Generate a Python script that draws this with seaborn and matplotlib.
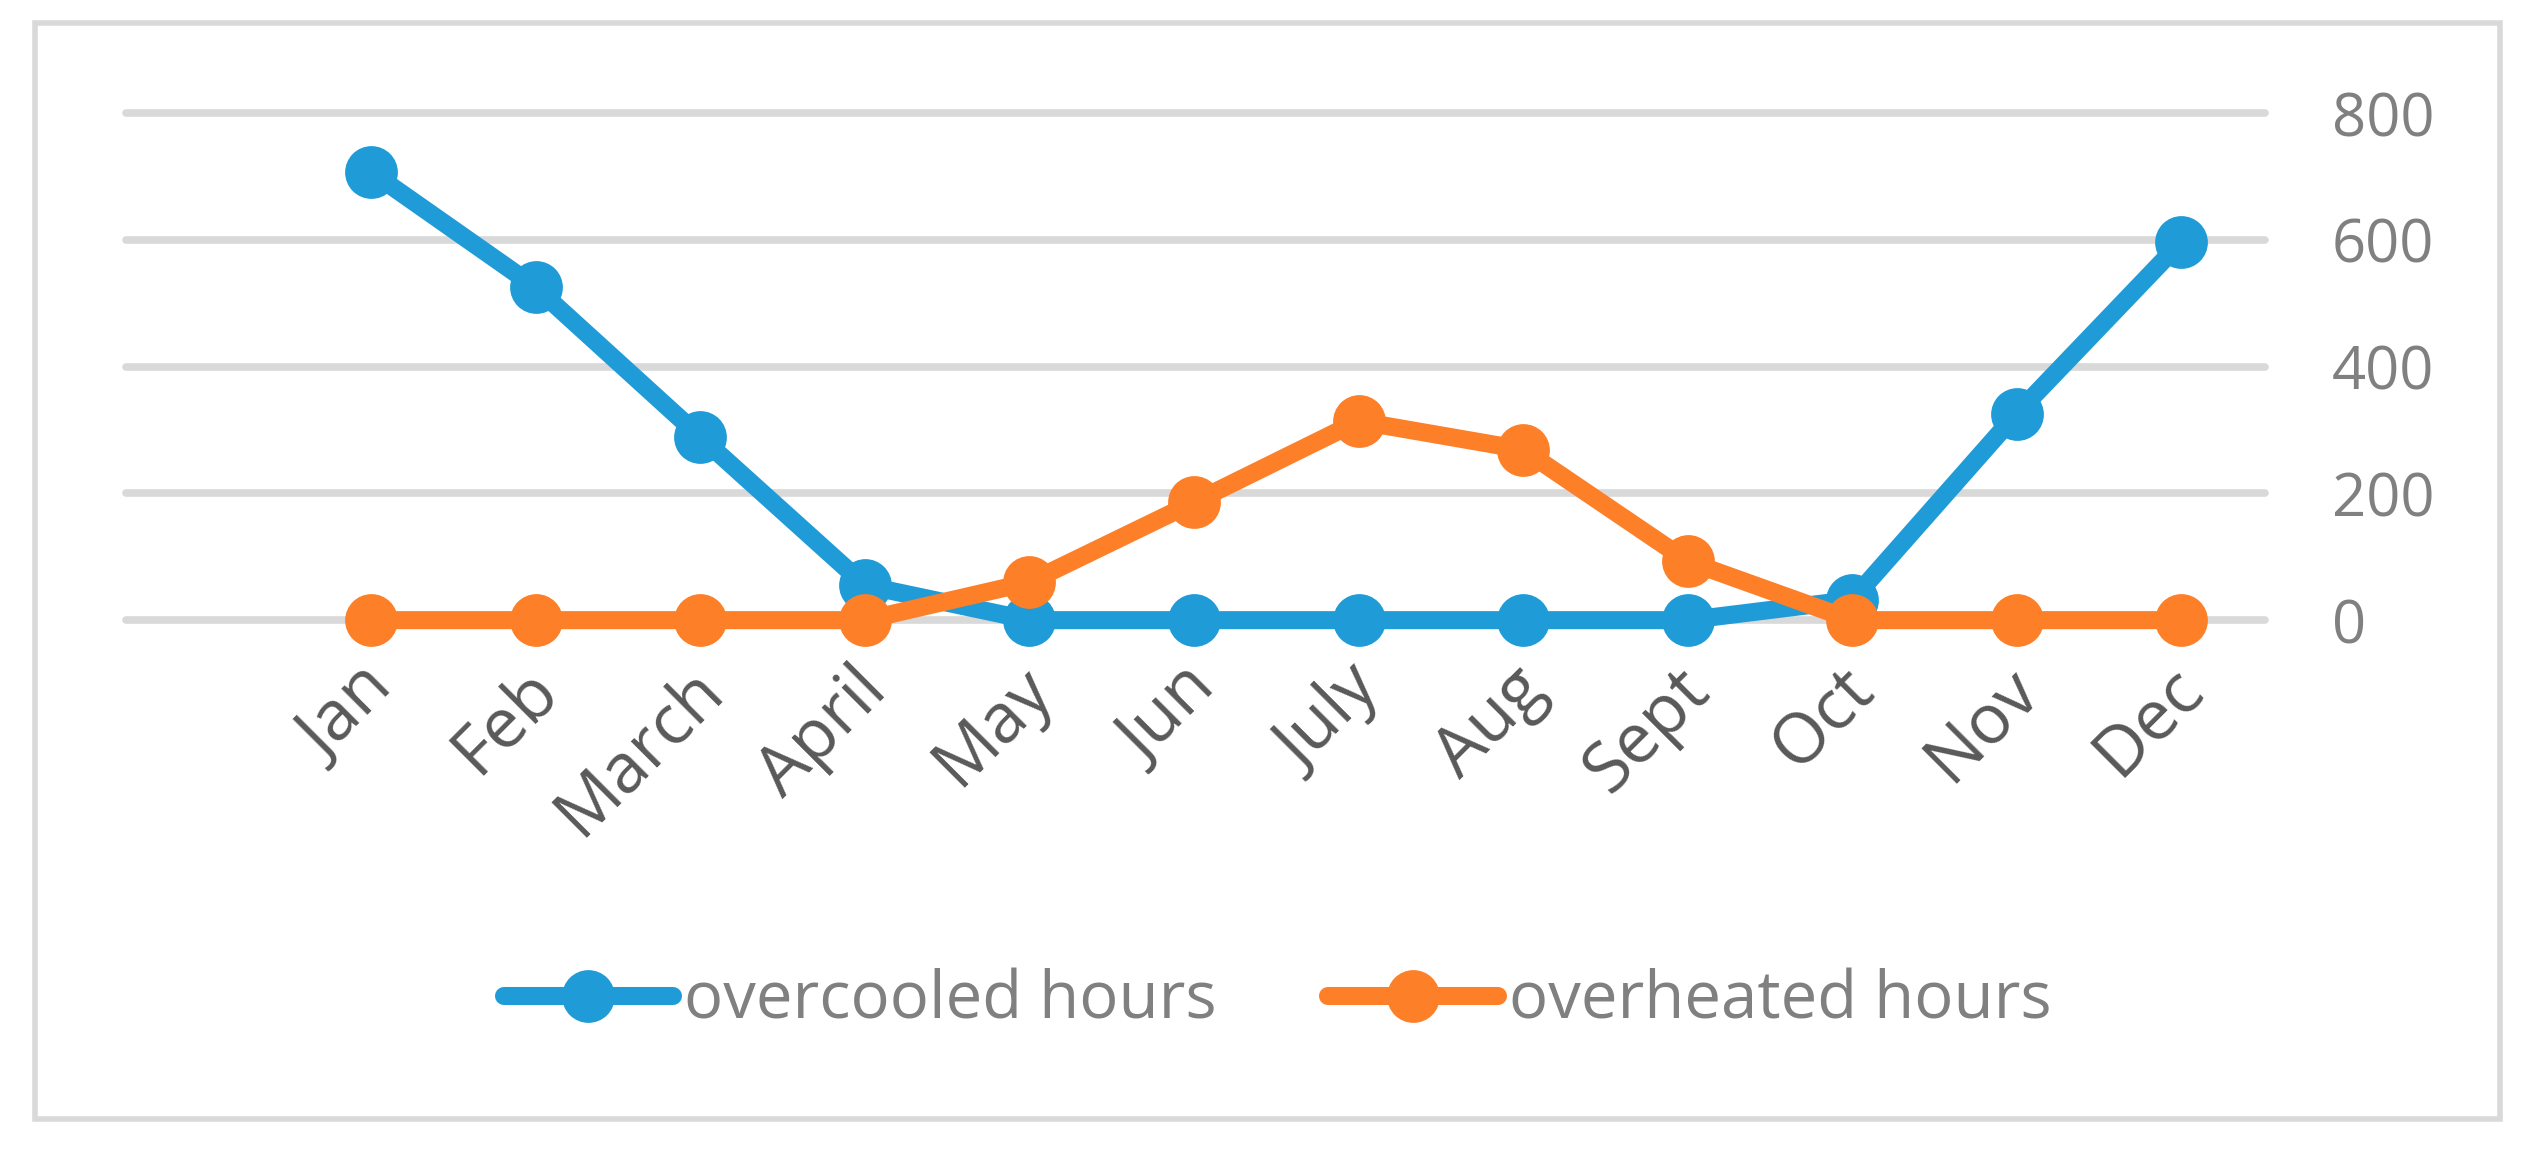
import pandas as pd
import matplotlib.pyplot as plt
import matplotlib.transforms as mtransforms
from matplotlib.patches import Rectangle
from matplotlib.lines import Line2D
import seaborn as sns

# Data
months = ["Jan", "Feb", "March", "April", "May", "Jun",
          "July", "Aug", "Sept", "Oct", "Nov", "Dec"]
overcooled = [707, 525, 289, 55, 0, 0, 0, 0, 0, 32, 326, 597]
overheated = [0, 0, 0, 0, 60, 186, 314, 269, 93, 0, 0, 0]
series_names = ["overcooled hours", "overheated hours"]
y_ticks = [0, 200, 400, 600, 800]

blue = "#1F9CD8"
orange = "#FD7F27"
grid_gray = "#D9D9D9"

df = pd.DataFrame({
    "idx": list(range(len(months))) * 2,
    "value": overcooled + overheated,
    "series": [series_names[0]] * len(months) + [series_names[1]] * len(months),
})

sns.set_style("white")
plt.rcParams["font.family"] = ["Open Sans", "DejaVu Sans"]

fig = plt.figure(figsize=(25.31, 11.57), dpi=100)
ax = fig.add_axes([0.0498, 0.464, 0.8452, 0.4383])

for y in y_ticks:
    ax.axhline(y, color=grid_gray, linewidth=5.5, zorder=1, clip_on=False)

sns.lineplot(data=df, x="idx", y="value", hue="series",
             palette=[blue, orange], marker="o", markersize=38,
             markeredgewidth=0, linewidth=13, legend=False, ax=ax,
             clip_on=False, zorder=3)

ax.set_xlim(-1.49, 11.51)
ax.set_ylim(0, 800)
ax.set_yticks(y_ticks)
ax.yaxis.tick_right()
ax.tick_params(axis="y", length=0, pad=48, labelsize=43, labelcolor="#808080")
ax.grid(False)
for s in ax.spines.values():
    s.set_visible(False)

ax.set_xticks(range(len(months)))
ax.set_xticklabels(months)
ax.tick_params(axis="x", length=0, pad=25, labelsize=50, labelcolor="#595959")
offset = mtransforms.ScaledTranslation(-13 / 100, 0, fig.dpi_scale_trans)
for lab in ax.get_xticklabels():
    lab.set_rotation(45)
    lab.set_ha("right")
    lab.set_va("top")
    lab.set_rotation_mode("anchor")
    lab.set_transform(lab.get_transform() + offset)

ax.set_xlabel("")
ax.set_ylabel("")

handles = [Line2D([], [], color=c, marker="o", markersize=38, linewidth=13,
                  markeredgewidth=0, solid_capstyle="round") for c in (blue, orange)]
fig.legend(handles, series_names, loc="center", bbox_to_anchor=(0.5047, 0.134),
           ncol=2, frameon=False, fontsize=47, labelcolor="#808080",
           handlelength=2.6, handletextpad=0.17, columnspacing=1.7)

# outer chart border
fig.patches.append(Rectangle((35 / 2531, 1 - 1119 / 1157), (2500 - 35) / 2531,
                             (1119 - 23) / 1157, transform=fig.transFigure,
                             fill=False, edgecolor=grid_gray, linewidth=4))

fig.savefig("out.png", dpi=100)
